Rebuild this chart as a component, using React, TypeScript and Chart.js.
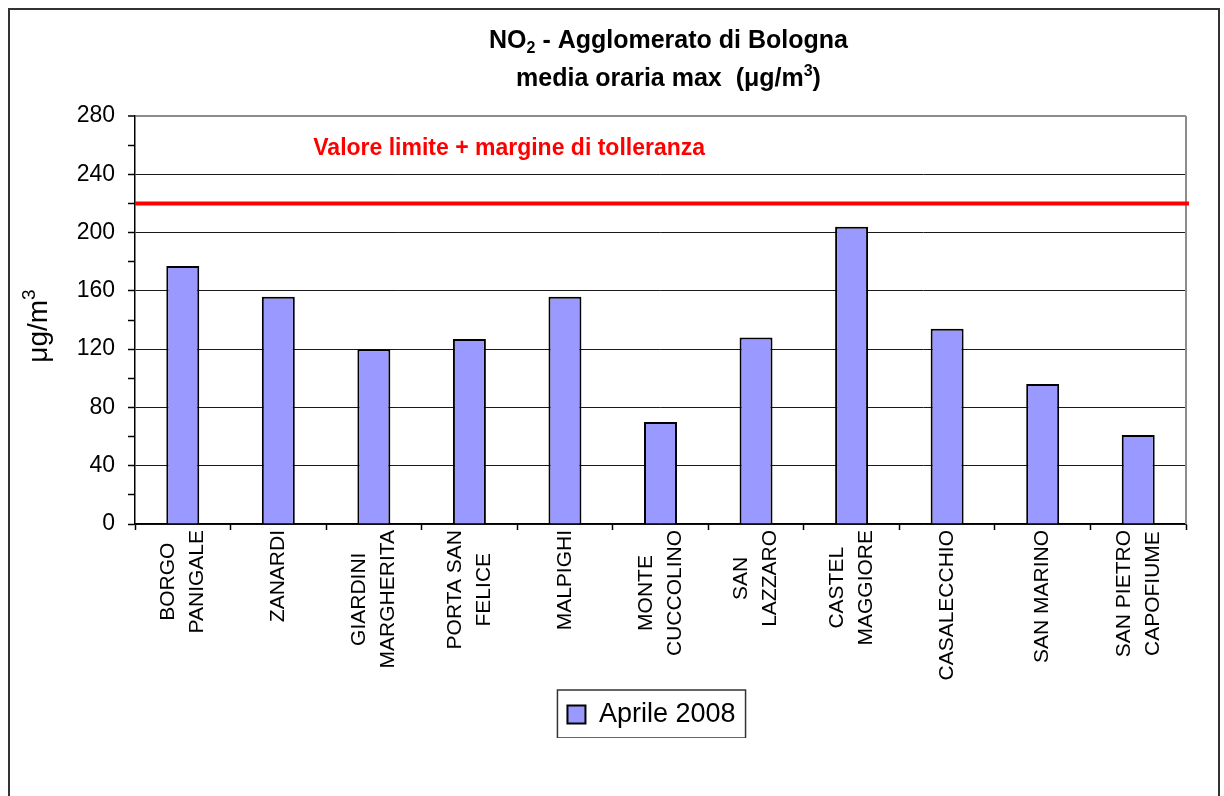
import React, { useEffect, useRef } from 'react';
import { Chart, registerables } from 'chart.js';

Chart.register(...registerables);

// ---- data ----
const STATIONS: string[][] = [
  ['BORGO', 'PANIGALE'],
  ['ZANARDI'],
  ['GIARDINI', 'MARGHERITA'],
  ['PORTA SAN', 'FELICE'],
  ['MALPIGHI'],
  ['MONTE', 'CUCCOLINO'],
  ['SAN', 'LAZZARO'],
  ['CASTEL', 'MAGGIORE'],
  ['CASALECCHIO'],
  ['SAN MARINO'],
  ['SAN PIETRO', 'CAPOFIUME'],
];
const APRILE_2008: number[] = [177, 156, 120, 127, 156, 70, 128, 204, 134, 96, 61];
const SERIES_LABEL = 'Aprile 2008';
const LIMIT_VALUE = 220;
const LIMIT_LABEL = 'Valore limite + margine di tolleranza';
const Y_MIN = 0;
const Y_MAX = 280;
const Y_STEP = 20;
const Y_LABEL_STEP = 40;
const TITLE_LINE_1 = ['NO', '2', ' - Agglomerato di Bologna'];
const TITLE_LINE_2 = ['media oraria max  (\u03bcg/m', '3', ')'];
const Y_TITLE = ['\u03bcg/m', '3'];

const FONT = '"Liberation Sans", Arial, Helvetica, sans-serif';

type Part = { text: string; size: number; bold?: boolean; dy?: number };

function fontOf(p: Part) {
  return `${p.bold ? 'bold ' : ''}${p.size}px ${FONT}`;
}

function drawRich(ctx: CanvasRenderingContext2D, parts: Part[], cx: number, baseline: number) {
  let total = 0;
  for (const p of parts) {
    ctx.font = fontOf(p);
    total += ctx.measureText(p.text).width;
  }
  let x = cx - total / 2;
  ctx.textAlign = 'left';
  ctx.textBaseline = 'alphabetic';
  for (const p of parts) {
    ctx.font = fontOf(p);
    ctx.fillText(p.text, x, baseline + (p.dy || 0));
    x += ctx.measureText(p.text).width;
  }
}

const LEGEND_SHIFT = -9;

const decorPlugin = {
  id: 'decor',
  afterLayout(chart: any) {
    const lg = chart.legend;
    if (lg) {
      lg.left += LEGEND_SHIFT;
      lg.right += LEGEND_SHIFT;
    }
  },
  beforeDatasetsDraw(chart: any) {
    const { ctx, chartArea } = chart;
    ctx.save();
    ctx.strokeStyle = '#8c8c8c';
    ctx.lineWidth = 2;
    ctx.beginPath();
    ctx.moveTo(chartArea.right, chartArea.top);
    ctx.lineTo(chartArea.right, chartArea.bottom);
    ctx.stroke();
    ctx.restore();
  },
  afterDatasetsDraw(chart: any) {
    const { ctx, chartArea, scales } = chart;
    const y = scales.y.getPixelForValue(LIMIT_VALUE);
    ctx.save();
    ctx.strokeStyle = '#ff0000';
    ctx.lineWidth = 4;
    ctx.beginPath();
    ctx.moveTo(chartArea.left, y);
    ctx.lineTo(chartArea.right + 3, y);
    ctx.stroke();
    ctx.fillStyle = '#ff0000';
    ctx.font = `bold 23px ${FONT}`;
    ctx.textAlign = 'center';
    ctx.textBaseline = 'alphabetic';
    ctx.fillText(LIMIT_LABEL, chartArea.left + (chartArea.right - chartArea.left) * 0.356, chartArea.top + 39);
    ctx.restore();
  },
  afterDraw(chart: any) {
    const { ctx, chartArea, scales } = chart;
    ctx.save();
    ctx.fillStyle = '#000';
    // title
    const cx = (chartArea.left + chartArea.right) / 2 + 8;
    drawRich(
      ctx,
      [
        { text: TITLE_LINE_1[0], size: 25, bold: true },
        { text: TITLE_LINE_1[1], size: 16, bold: true, dy: 5 },
        { text: TITLE_LINE_1[2], size: 25, bold: true },
      ],
      cx,
      38
    );
    drawRich(
      ctx,
      [
        { text: TITLE_LINE_2[0], size: 25, bold: true },
        { text: TITLE_LINE_2[1], size: 16, bold: true, dy: -10 },
        { text: TITLE_LINE_2[2], size: 25, bold: true },
      ],
      cx,
      76
    );
    // y axis title
    ctx.save();
    ctx.translate(37, (chartArea.top + chartArea.bottom) / 2 + 6);
    ctx.rotate(-Math.PI / 2);
    drawRich(
      ctx,
      [
        { text: Y_TITLE[0], size: 28 },
        { text: Y_TITLE[1], size: 19, dy: -12 },
      ],
      0,
      0
    );
    ctx.restore();
    // x labels
    const xs = scales.x;
    ctx.font = `21px ${FONT}`;
    ctx.textAlign = 'center';
    ctx.textBaseline = 'middle';
    STATIONS.forEach((lines, i) => {
      const x = xs.getPixelForTick(i);
      const maxW = Math.max(...lines.map((l) => ctx.measureText(l).width));
      ctx.save();
      ctx.translate(x, chartArea.bottom + 6);
      ctx.rotate(-Math.PI / 2);
      lines.forEach((l, j) => {
        ctx.fillText(l, -maxW / 2, (j - (lines.length - 1) / 2) * 29);
      });
      ctx.restore();
    });
    // legend frame
    const hb = chart.legend && chart.legend.legendHitBoxes && chart.legend.legendHitBoxes[0];
    if (hb) {
      ctx.strokeStyle = '#333';
      ctx.lineWidth = 1.5;
      ctx.strokeRect(hb.left - 10, hb.top - 11, hb.width + 20, hb.height + 21);
    }
    ctx.restore();
  },
};

export default function App() {
  const ref = useRef<HTMLCanvasElement>(null);
  useEffect(() => {
    const canvas = ref.current!;
    const chart = new Chart(canvas, {
      type: 'bar',
      data: {
        labels: STATIONS.map((s) => s.join(' ')),
        datasets: [
          {
            label: SERIES_LABEL,
            data: APRILE_2008,
            backgroundColor: '#9999FF',
            borderColor: '#000000',
            borderWidth: 2,
            barPercentage: 0.345,
            categoryPercentage: 1,
          },
        ],
      },
      options: {
        responsive: false,
        animation: false,
        layout: { padding: { top: 106, right: 32, left: 0, bottom: 0 } },
        plugins: {
          title: { display: false },
          tooltip: { enabled: false },
          legend: {
            display: true,
            position: 'bottom',
            fullSize: false,
            labels: {
              font: { family: FONT, size: 27 },
              color: '#000',
              boxWidth: 18,
              boxHeight: 18,
              padding: 10,
            },
          },
        },
        scales: {
          x: {
            grid: {
              offset: true,
              drawOnChartArea: false,
              drawTicks: true,
              tickLength: 6,
              tickColor: '#000',
              tickWidth: 1.5,
            },
            border: { color: '#000', width: 1.5 },
            ticks: { display: false },
            afterFit: (s: any) => {
              s.height = 167;
            },
          },
          y: {
            min: Y_MIN,
            max: Y_MAX,
            ticks: {
              stepSize: Y_STEP,
              autoSkip: false,
              padding: 13,
              color: '#000',
              font: { family: FONT, size: 23 },
              callback: (v: any) => (Number(v) % Y_LABEL_STEP === 0 ? String(v) : ''),
            },
            grid: {
              color: (c: any) => {
                const v = c.tick ? c.tick.value : 0;
                if (v === Y_MAX) return '#8c8c8c';
                return v % Y_LABEL_STEP === 0 ? '#1a1a1a' : 'rgba(0,0,0,0)';
              },
              lineWidth: (c: any) => (c.tick && c.tick.value === Y_MAX ? 2 : 1),
              tickLength: 7,
              tickColor: '#000',
              tickWidth: 1.5,
            },
            border: { color: '#000', width: 1.5 },
            afterFit: (s: any) => {
              s.width = 125;
            },
          },
        },
      } as any,
      plugins: [decorPlugin],
    });
    return () => chart.destroy();
  }, []);
  return (
    <div
      style={{
        position: 'fixed',
        left: 8,
        top: 8,
        width: 1212,
        height: 900,
        border: '2px solid #333',
        boxSizing: 'border-box',
        background: '#fff',
      }}
    >
      <canvas ref={ref} width={1208} height={728} style={{ display: 'block' }} />
    </div>
  );
}
